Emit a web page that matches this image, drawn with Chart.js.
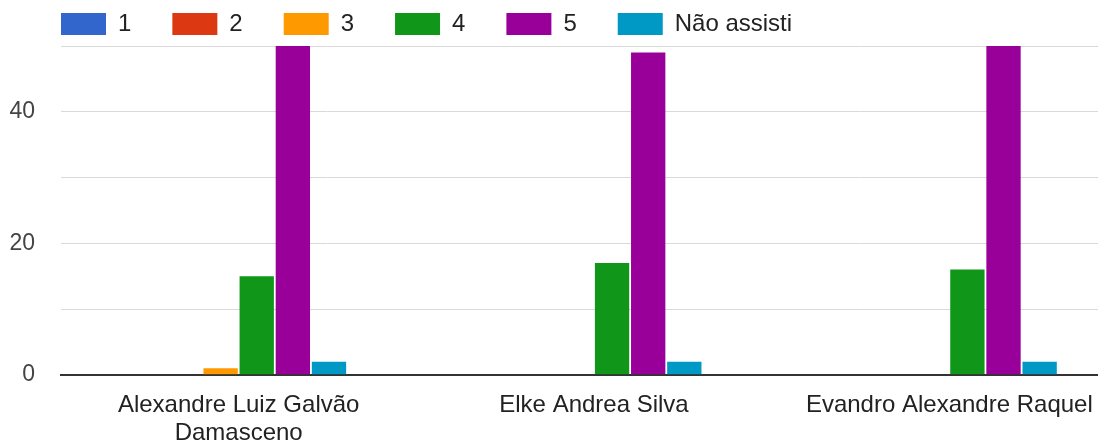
<!DOCTYPE html>
<html>
<head>
<meta charset="utf-8">
<script src="https://cdn.jsdelivr.net/npm/chart.js@4"></script>
<style>
html,body{margin:0;padding:0;background:#fff;overflow:hidden;}
#wrap{width:1127px;height:446px;}
</style>
</head>
<body>
<div id="wrap"><canvas id="c" width="1127" height="446"></canvas></div>
<script>
const categories = [["Alexandre Luiz Galvão", "Damasceno"], "Elke Andrea Silva", "Evandro Alexandre Raquel"];
const seriesNames = ["1", "2", "3", "4", "5", "Não assisti"];
const s1 = [0, 0, 0];
const s2 = [0, 0, 0];
const s3 = [1, 0, 0];
const s4 = [15, 17, 16];
const s5 = [50, 49, 50];
const sNA = [2, 2, 2];
const yTicksShown = [0, 20, 40];
const colors = ["#3366cc", "#dc3912", "#ff9900", "#109618", "#990099", "#0099c6"];

const values = [s1, s2, s3, s4, s5, sNA];
const datasets = seriesNames.map((n, i) => ({
  label: n,
  data: values[i],
  backgroundColor: colors[i],
  borderWidth: 0,
  barPercentage: 0.95,
  categoryPercentage: 0.61
}));

const shiftLegend = {
  id: 'shiftLegend',
  afterLayout(chart) {
    if (chart.legend) { chart.legend.left += 20; }
  }
};

new Chart(document.getElementById('c'), {
  type: 'bar',
  data: { labels: categories, datasets },
  plugins: [shiftLegend],
  options: {
    responsive: false,
    devicePixelRatio: 1,
    animation: false,
    layout: { padding: { left: 0, right: 0, top: -29, bottom: -9 } },
    plugins: {
      tooltip: { enabled: false },
      legend: {
        position: 'top',
        align: 'start',
        labels: {
          boxWidth: 45,
          boxHeight: 22,
          padding: 41,
          color: '#222',
          font: { family: 'Liberation Sans, Arial, sans-serif', size: 24 }
        }
      }
    },
    scales: {
      x: {
        grid: { display: false },
        border: { display: true, color: '#333', width: 2 },
        ticks: {
          color: '#222',
          padding: 8,
          maxRotation: 0,
          autoSkip: false,
          font: { family: 'Liberation Sans, Arial, sans-serif', size: 24, lineHeight: 1.17 }
        }
      },
      y: {
        min: 0,
        max: 50,
        afterFit: (s) => { s.width = 61; },
        border: { display: false },
        grid: {
          color: (ctx) => ctx.tick && ctx.tick.value === 0 ? '#333' : '#d9d9d9',
          drawTicks: false
        },
        ticks: {
          stepSize: 10,
          padding: 26,
          color: '#444',
          font: { family: 'Liberation Sans, Arial, sans-serif', size: 23 },
          callback: (v) => yTicksShown.includes(v) ? String(v) : ''
        }
      }
    }
  }
});
</script>
</body>
</html>
